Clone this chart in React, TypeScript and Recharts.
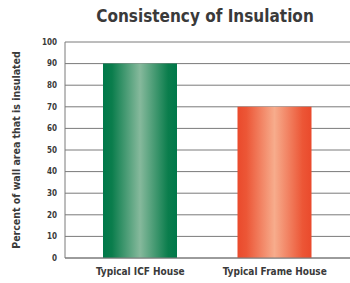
import { BarChart, Bar, XAxis, YAxis, CartesianGrid, Cell } from "recharts"

// ─── Data ────────────────────────────────────────────────────────────────────

const HOUSES = ["Typical ICF House", "Typical Frame House"]
const INSULATED = [90, 70]
const Y_TICKS = [0, 10, 20, 30, 40, 50, 60, 70, 80, 90, 100]

const FILLS = ["url(#gradGreen)", "url(#gradRed)"]

const DATA = HOUSES.map((house, i) => ({ house, value: INSULATED[i] }))

const FONT = "'DejaVu Sans Condensed', 'Liberation Sans Narrow', 'Roboto Condensed', sans-serif"
const TEXT = "#3a3a3a"

// ─── Chart ───────────────────────────────────────────────────────────────────

export default function App() {
    return (
        <div style={{ position: "absolute", left: 0, top: 0, width: 350, height: 283, background: "#fff", fontFamily: FONT }}>
            <div
                style={{
                    position: "absolute",
                    left: 60,
                    width: 290,
                    top: 6,
                    textAlign: "center",
                    fontSize: 17,
                    fontWeight: "bold",
                    color: TEXT,
                }}
            >
                Consistency of Insulation
            </div>
            <BarChart width={350} height={283} data={DATA} margin={{ top: 42, right: 0, bottom: 0, left: 0 }}>
                <defs>
                    <linearGradient id="gradGreen" x1="0" y1="0" x2="1" y2="0">
                        <stop offset="0%" stopColor="#00784a" />
                        <stop offset="12%" stopColor="#0a7d4c" />
                        <stop offset="50%" stopColor="#86b99c" />
                        <stop offset="88%" stopColor="#0a7d4c" />
                        <stop offset="100%" stopColor="#00784a" />
                    </linearGradient>
                    <linearGradient id="gradRed" x1="0" y1="0" x2="1" y2="0">
                        <stop offset="0%" stopColor="#ea4a2c" />
                        <stop offset="12%" stopColor="#ec5636" />
                        <stop offset="50%" stopColor="#f7ac8c" />
                        <stop offset="88%" stopColor="#ec5636" />
                        <stop offset="100%" stopColor="#ea4a2c" />
                    </linearGradient>
                </defs>
                <CartesianGrid vertical={false} stroke="#7a7a7a" strokeWidth={1} />
                <XAxis
                    dataKey="house"
                    height={25}
                    padding={{ left: 8, right: 8 }}
                    axisLine={{ stroke: "#7a7a7a" }}
                    tickLine={false}
                    tickSize={0}
                    tickMargin={10}
                    tick={{ fill: TEXT, fontSize: 10, fontWeight: "bold", fontFamily: FONT }}
                />
                <YAxis
                    width={65}
                    domain={[0, 100]}
                    ticks={Y_TICKS}
                    interval={0}
                    axisLine={{ stroke: "#7a7a7a" }}
                    tickLine={false}
                    tickSize={0}
                    tickMargin={8}
                    tick={{ fill: TEXT, fontSize: 8, fontWeight: "bold", fontFamily: FONT }}
                    label={{
                        value: "Percent of wall area that is insulated",
                        angle: -90,
                        position: "insideLeft",
                        offset: 16,
                        style: { textAnchor: "middle", fill: TEXT, fontSize: 10.5, fontWeight: "bold", fontFamily: FONT },
                    }}
                />
                <Bar dataKey="value" barSize={74} isAnimationActive={false}>
                    {DATA.map((d, i) => (
                        <Cell key={d.house} fill={FILLS[i]} />
                    ))}
                </Bar>
            </BarChart>
        </div>
    )
}
